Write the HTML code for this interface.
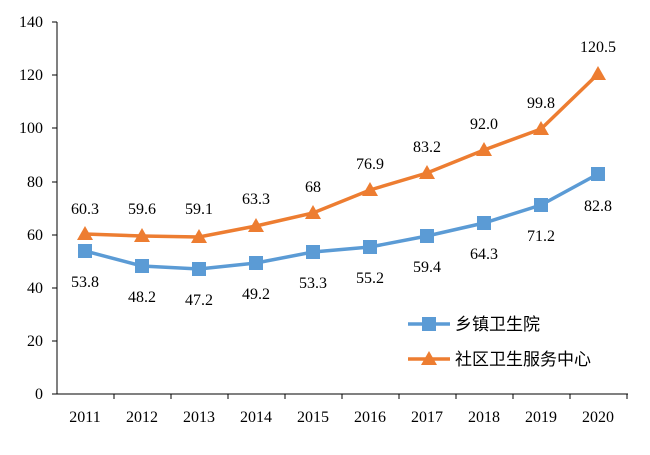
<!DOCTYPE html>
<html><head><meta charset="utf-8"><style>
body{margin:0;background:#fff}
text{font-family:"Liberation Serif","Noto Serif CJK SC",serif;font-size:16px;fill:#000}
.c{font-family:"Liberation Sans","Noto Sans CJK SC",sans-serif;font-size:17px}
</style></head><body>
<svg width="650" height="450" xmlns="http://www.w3.org/2000/svg">
<g stroke="#000" stroke-width="1">
<line x1="57" y1="22" x2="57" y2="394"/>
<line x1="57" y1="394" x2="628" y2="394"/>
<line x1="52" y1="22" x2="57" y2="22"/><line x1="52" y1="75" x2="57" y2="75"/><line x1="52" y1="128" x2="57" y2="128"/><line x1="52" y1="182" x2="57" y2="182"/><line x1="52" y1="235" x2="57" y2="235"/><line x1="52" y1="288" x2="57" y2="288"/><line x1="52" y1="341" x2="57" y2="341"/><line x1="52" y1="394" x2="57" y2="394"/>
<line x1="114" y1="394" x2="114" y2="399"/><line x1="171" y1="394" x2="171" y2="399"/><line x1="228" y1="394" x2="228" y2="399"/><line x1="285" y1="394" x2="285" y2="399"/><line x1="342" y1="394" x2="342" y2="399"/><line x1="399" y1="394" x2="399" y2="399"/><line x1="456" y1="394" x2="456" y2="399"/><line x1="513" y1="394" x2="513" y2="399"/><line x1="570" y1="394" x2="570" y2="399"/><line x1="627" y1="394" x2="627" y2="399"/>
</g>
<g text-anchor="end">
<text x="43" y="27">140</text><text x="43" y="80">120</text><text x="43" y="133">100</text><text x="43" y="187">80</text><text x="43" y="240">60</text><text x="43" y="293">40</text><text x="43" y="346">20</text><text x="43" y="399">0</text>
</g>
<g text-anchor="middle">
<text x="85" y="422">2011</text><text x="142" y="422">2012</text><text x="199" y="422">2013</text><text x="256" y="422">2014</text><text x="313" y="422">2015</text><text x="370" y="422">2016</text><text x="427" y="422">2017</text><text x="484" y="422">2018</text><text x="541" y="422">2019</text><text x="598" y="422">2020</text>
</g>
<polyline fill="none" stroke="#5B9BD5" stroke-width="3.5" points="85,251 142,266 199,269 256,263 313,252 370,247 427,236 484,223 541,205 598,174"/>
<g fill="#5B9BD5">
<rect x="78" y="244" width="14" height="14"/><rect x="135" y="259" width="14" height="14"/><rect x="192" y="262" width="14" height="14"/><rect x="249" y="256" width="14" height="14"/><rect x="306" y="245" width="14" height="14"/><rect x="363" y="240" width="14" height="14"/><rect x="420" y="229" width="14" height="14"/><rect x="477" y="216" width="14" height="14"/><rect x="534" y="198" width="14" height="14"/><rect x="591" y="167" width="14" height="14"/>
</g>
<polyline fill="none" stroke="#ED7D31" stroke-width="3.5" points="85,234 142,236 199,237 256,226 313,213 370,190 427,173 484,150 541,129 598,74"/>
<g fill="#ED7D31">
<polygon points="85,226 93,240 77,240"/><polygon points="142,228 150,242 134,242"/><polygon points="199,229 207,243 191,243"/><polygon points="256,218 264,232 248,232"/><polygon points="313,205 321,219 305,219"/><polygon points="370,182 378,196 362,196"/><polygon points="427,165 435,179 419,179"/><polygon points="484,142 492,156 476,156"/><polygon points="541,121 549,135 533,135"/><polygon points="598,66 606,80 590,80"/>
</g>
<g text-anchor="middle">
<text x="85" y="214">60.3</text><text x="142" y="214">59.6</text><text x="199" y="214">59.1</text><text x="256" y="204">63.3</text><text x="313" y="192">68</text><text x="370" y="169">76.9</text><text x="427" y="152">83.2</text><text x="484" y="129">92.0</text><text x="541" y="108">99.8</text><text x="598" y="52">120.5</text>
<text x="85" y="287">53.8</text><text x="142" y="302">48.2</text><text x="199" y="305">47.2</text><text x="256" y="299">49.2</text><text x="313" y="288">53.3</text><text x="370" y="283">55.2</text><text x="427" y="272">59.4</text><text x="484" y="259">64.3</text><text x="541" y="241">71.2</text><text x="598" y="211">82.8</text>
</g>
<line x1="408" y1="324" x2="450" y2="324" stroke="#5B9BD5" stroke-width="3.5"/><rect x="422" y="317" width="14" height="14" fill="#5B9BD5"/>
<text class="c" x="455" y="330">乡镇卫生院</text>
<line x1="408" y1="359" x2="450" y2="359" stroke="#ED7D31" stroke-width="3.5"/><polygon points="429,351 437,365 421,365" fill="#ED7D31"/>
<text class="c" x="455" y="365">社区卫生服务中心</text>
</svg>
</body></html>
